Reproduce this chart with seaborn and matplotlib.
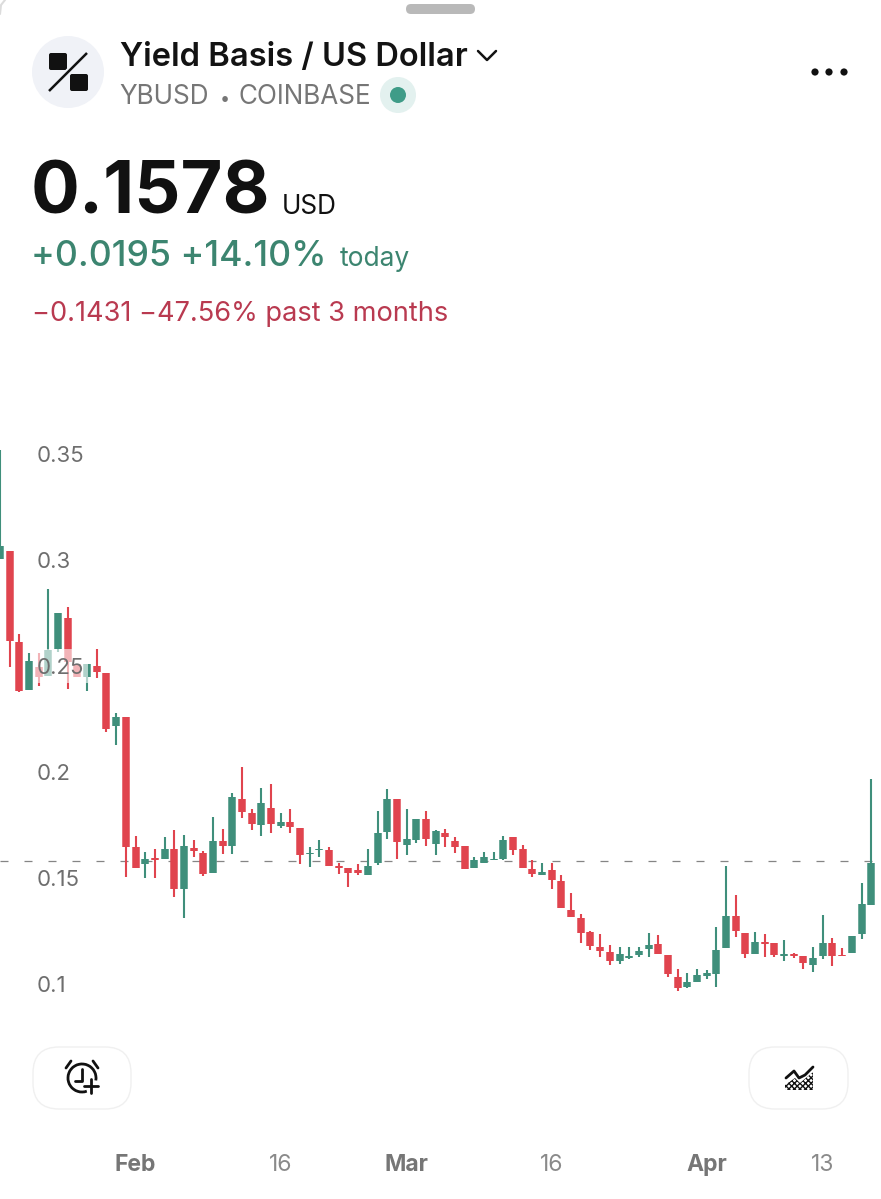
import numpy as np
import pandas as pd
import matplotlib
matplotlib.use("Agg")
import matplotlib.pyplot as plt
import matplotlib.dates as mdates
from matplotlib.patches import Circle, FancyBboxPatch, Arc, Polygon, Rectangle
import seaborn as sns

# candle data (daily, 18 Jan - 18 Apr)
opens = [.3005,.3044,.2615,.2387,.2497,.2454,.2580,.2726,.2509,.2448,.2501,.2467,.2218,.2259,.1646,.1566,.1596,.1590,.1637,.1448,
         .1642,.1619,.1525,.1675,.1651,.1873,.1807,.1750,.1830,.1745,.1764,.1736,.1613,.1632,.1632,.1558,.1549,.1539,.1514,.1572,
         .1718,.1874,.1656,.1679,.1778,.1660,.1714,.1676,.1651,.1547,.1571,.1585,.1590,.1693,.1637,.1542,.1516,.1538,.1486,.1350,
         .1311,.1245,.1175,.1151,.1110,.1123,.1138,.1167,.1189,.1138,.1033,.0987,.1011,.1038,.1049,.1171,.1321,.1241,.1143,.1198,
         .1195,.1132,.1142,.1132,.1091,.1133,.1193,.1138,.1146,.1236,.1374]
closes = [.3066,.2619,.2384,.2524,.2448,.2575,.2750,.2519,.2448,.2509,.2473,.2204,.2259,.1648,.1547,.1590,.1585,.1638,.1448,.1651,
          .1629,.1519,.1675,.1651,.1884,.1811,.1755,.1854,.1755,.1764,.1741,.1608,.1619,.1638,.1557,.1547,.1524,.1525,.1557,.1712,
          .1874,.1670,.1684,.1780,.1684,.1722,.1693,.1648,.1542,.1585,.1599,.1591,.1679,.1632,.1549,.1519,.1528,.1491,.1358,.1316,
          .1241,.1179,.1157,.1110,.1142,.1132,.1157,.1184,.1142,.1047,.0981,.1009,.1042,.1052,.1160,.1322,.1250,.1142,.1200,.1190,
          .1138,.1142,.1132,.1099,.1123,.1193,.1133,.1132,.1228,.1377,.1572]
highs = [.3519,.3044,.2651,.2561,.2563,.2863,.2750,.2778,.2509,.2509,.2582,.2467,.2278,.2259,.1698,.1624,.1638,.1695,.1726,.1703,
         .1679,.1627,.1788,.1731,.1902,.2025,.1825,.1925,.1943,.1807,.1825,.1736,.1648,.1679,.1648,.1571,.1549,.1566,.1637,.1816,
         .1920,.1874,.1825,.1780,.1817,.1726,.1731,.1693,.1651,.1600,.1623,.1624,.1698,.1695,.1656,.1585,.1571,.1572,.1514,.1431,
         .1332,.1250,.1236,.1184,.1176,.1176,.1176,.1241,.1231,.1138,.1071,.1052,.1071,.1066,.1270,.1558,.1420,.1241,.1245,.1237,
         .1195,.1208,.1146,.1132,.1176,.1325,.1217,.1171,.1228,.1476,.1968]
lows = [.3005,.2497,.2377,.2387,.2407,.2454,.2567,.2392,.2448,.2384,.2443,.2190,.2127,.1506,.1547,.1500,.1500,.1590,.1412,.1313,
        .1600,.1509,.1524,.1613,.1613,.1784,.1726,.1700,.1712,.1736,.1714,.1566,.1553,.1599,.1557,.1520,.1459,.1514,.1514,.1563,
        .1684,.1590,.1608,.1667,.1651,.1610,.1646,.1618,.1542,.1547,.1571,.1585,.1585,.1608,.1547,.1505,.1514,.1448,.1358,.1316,
        .1195,.1160,.1129,.1091,.1094,.1118,.1129,.1127,.1142,.1034,.0968,.0981,.1011,.1024,.0987,.1171,.1223,.1124,.1143,.1129,
        .1127,.1110,.1123,.1072,.1057,.1119,.1086,.1132,.1146,.1212,.1374]
dates = pd.date_range("2026-01-18", periods=len(opens))

last_price = 0.1578
y_ticks = [0.1, 0.15, 0.2, 0.25, 0.3, 0.35]
y_labels = ["0.1", "0.15", "0.2", "0.25", "0.3", "0.35"]
x_ticks = pd.to_datetime(["2026-02-01", "2026-02-16", "2026-03-01", "2026-03-16", "2026-04-01", "2026-04-13"])
x_labels = ["Feb", "16", "Mar", "16", "Apr", "13"]

green = "#3f8f7b"
red = "#e0444e"
gray = "#767676"

df = pd.DataFrame({"date": dates, "open": opens, "close": closes, "high": highs, "low": lows})
df["dir"] = np.where(df["close"] >= df["open"], "up", "down")
wicks = df.melt(id_vars=["date", "dir"], value_vars=["low", "high"], value_name="price")
bodies = df.melt(id_vars=["date", "dir"], value_vars=["open", "close"], value_name="price")

sns.set_theme(style="white")
plt.rcParams["font.family"] = ["Inter", "DejaVu Sans"]

W, H = 881, 1199
fig = plt.figure(figsize=(W / 100, H / 100), dpi=100)
ax = fig.add_axes([0, 0, 1, 1])

# app chrome goes on this one, in pixel coords
ui = fig.add_axes([0, 0, 1, 1], facecolor="none")
ui.set_xlim(0, W)
ui.set_ylim(H, 0)
ui.axis("off")

# price chart, scale is 9.68 px a day and 2120 px per 1.0 USD
day0 = mdates.date2num(dates[0])
ax.axhline(last_price, color="#858585", lw=0.9, dashes=(6.4, 12.8), zorder=1)
pal = {"up": green, "down": red}
sns.lineplot(data=wicks, x="date", y="price", hue="dir", units="date", estimator=None, palette=pal,
             legend=False, lw=1.5, solid_capstyle="butt", ax=ax, zorder=2)
sns.lineplot(data=bodies, x="date", y="price", hue="dir", units="date", estimator=None, palette=pal,
             legend=False, lw=5.4, solid_capstyle="butt", ax=ax, zorder=2)
ax.set_xlim(day0, day0 + W / 9.68)
ax.set_ylim(0.1 - (H - 984) / 2120, 0.1 + 984 / 2120)
ax.set_xlabel("")
ax.set_ylabel("")
ax.set_axisbelow(False)
sns.despine(ax=ax, left=True, bottom=True)

# the label backdrop washes out the candles behind 0.25
ax.add_patch(Rectangle((35, 649), 53, 34, transform=ui.transData, fc="white", ec="none", alpha=0.6, zorder=2.4))

ax.set_yticks(y_ticks, y_labels)
ax.tick_params(axis="y", length=0, pad=-26.5, labelsize=16, labelcolor="#6e6e6e")
for lab in ax.get_yticklabels():
    lab.set_ha("left")

ax.set_xticks(x_ticks, x_labels)
ax.tick_params(axis="x", length=0, pad=-16.5, labelsize=16.5, labelcolor=gray)
for lab in ax.get_xticklabels():
    lab.set_va("bottom")
    if lab.get_text() in ("Feb", "Mar", "Apr"):
        lab.set_fontweight("bold")
    else:
        lab.set_color("#8a8a8a")


def box(x0, y0, x1, y1, r, **kw):
    ui.add_patch(FancyBboxPatch((x0 + r, y0 + r), x1 - x0 - 2 * r, y1 - y0 - 2 * r,
                                boxstyle=f"round,pad={r},rounding_size={r}", **kw))


box(406, 4, 475, 14, 5, fc="#b9b9b9", ec="none")
ui.plot([0, 1, 5], [14, 5, 0], color="#dcdcdc", lw=1.5)

# logo
ui.add_patch(Circle((68, 72), 36, fc="#f0f2f7", ec="none"))
box(49, 53, 67, 70, 2, fc="#111111", ec="none")
box(70, 74, 88, 91, 2, fc="#111111", ec="none")
ui.plot([49, 87], [91, 53], color="#f0f2f7", lw=4.5, solid_capstyle="butt")
ui.plot([49, 87], [91, 53], color="#111111", lw=1.8, solid_capstyle="butt")

ui.text(120, 66, "Yield Basis / US Dollar", fontsize=23.5, fontweight=600, color="#131313", va="baseline")
ui.plot([478, 487, 496], [51, 60, 51], color="#131313", lw=1.8)
ui.text(119.5, 104, "YBUSD", fontsize=18.8, color=gray, va="baseline")
ui.text(225, 104, "•", fontsize=13, color=gray, va="baseline", ha="center")
ui.text(238.5, 104, "COINBASE", fontsize=18.8, color=gray, va="baseline")
ui.add_patch(Circle((398, 95), 18, fc="#e3f1ef", ec="none"))
ui.add_patch(Circle((398, 95), 8, fc="#3f9c88", ec="none"))

for dx in (815, 829, 844):
    ui.add_patch(Circle((dx, 72), 3.6, fc="#111111", ec="none"))

ui.text(31, 214, "0.1578", fontsize=52, fontweight="bold", color="#111111", va="baseline")
ui.text(282, 214, "USD", fontsize=18.8, color="#111111", va="baseline")
ui.text(31, 266, "+0.0195 +14.10%", fontsize=25.6, fontweight=500, color="#3c8570", va="baseline")
ui.text(340, 266, "today", fontsize=19, color="#3c8570", va="baseline")
ui.text(32, 321, "−0.1431 −47.56% past 3 months", fontsize=19.6, color="#b93a50", va="baseline")

# bottom buttons
box(33, 1047, 131, 1109, 26, fc="white", ec="#f0f0f0", lw=1)
box(749, 1047, 848, 1109, 26, fc="white", ec="#f0f0f0", lw=1)

# alarm icon
ui.add_patch(Arc((82, 1078), 28, 28, theta1=70, theta2=370, color="#111111", lw=2))
ui.plot([82, 82, 75], [1069, 1081, 1081], color="#111111", lw=2)
ui.plot([84, 98], [1086, 1086], color="#111111", lw=2)
ui.plot([91, 91], [1079, 1093], color="#111111", lw=2)
ui.plot([66, 71], [1068, 1061], color="#111111", lw=2)
ui.plot([93, 98], [1061, 1068], color="#111111", lw=2)

# chart style icon
ui.plot([786, 794, 799, 805, 813], [1078, 1071, 1078, 1075, 1067], color="#111111", lw=2)
ui.add_patch(Polygon([(785, 1090), (785, 1085), (795, 1078), (800, 1083), (813, 1072), (813, 1090)],
                     fc="white", ec="#111111", hatch="xxxxxx", lw=0))

fig.savefig("out.png", dpi=100)
